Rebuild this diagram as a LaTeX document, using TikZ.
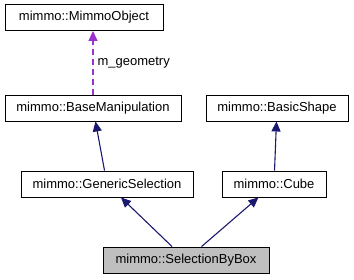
\documentclass[tikz,border=0pt]{standalone}
\usepackage{fontspec}
\setmainfont{Liberation Sans}
\usetikzlibrary{arrows.meta,positioning}
\definecolor{inhcol}{HTML}{191970}
\definecolor{usecol}{HTML}{9A32CD}

\begin{document}
\begin{tikzpicture}
[x=1pt,y=-1pt,
    cls/.style={draw,shape=rectangle,minimum height=26pt,inner sep=0pt,
    line width=.9pt,text=black,font=\fontsize{13}{15}\selectfont},
    cur/.style={cls,fill=black!25},
    inh/.style={draw=inhcol,line width=1.1pt,
    -{Triangle[length=10pt,width=9pt,fill=inhcol]}},
    use/.style={draw=usecol,line width=1.1pt,dash pattern=on 6pt off 4pt,
    -{Triangle[length=10pt,width=9pt,fill=usecol]}},
    lab/.style={font=\fontsize{13}{15}\selectfont,inner sep=1pt}]
\useasboundingbox (0,0) rectangle (354,279);
%% classes
\node (mobj) [cls,minimum width=158pt] at (84,17.5) {mimmo::MimmoObject};
\node (bman) [cls,minimum width=176pt] at (93,108) {mimmo::BaseManipulation};
\node (bshp) [cls,minimum width=142pt] at (277,108) {mimmo::BasicShape};
\node (gsel) [cls,minimum width=172pt] at (107,184) {mimmo::GenericSelection};
\node (cube) [cls,minimum width=104pt] at (274,184) {mimmo::Cube};
\node (sbox) [cur,minimum width=166pt] at (186,260) {mimmo::SelectionByBox};
%% usage
\draw[use] (bman.north) -- node[lab,right=3pt] {m\_geometry} (bman.north |- mobj.south);
%% inheritance
\draw[inh] (gsel) -- (bman);
\draw[inh] (cube) -- (bshp);
\draw[inh] (sbox) -- (gsel);
\draw[inh] (sbox) -- (cube);
\end{tikzpicture}
\end{document}
